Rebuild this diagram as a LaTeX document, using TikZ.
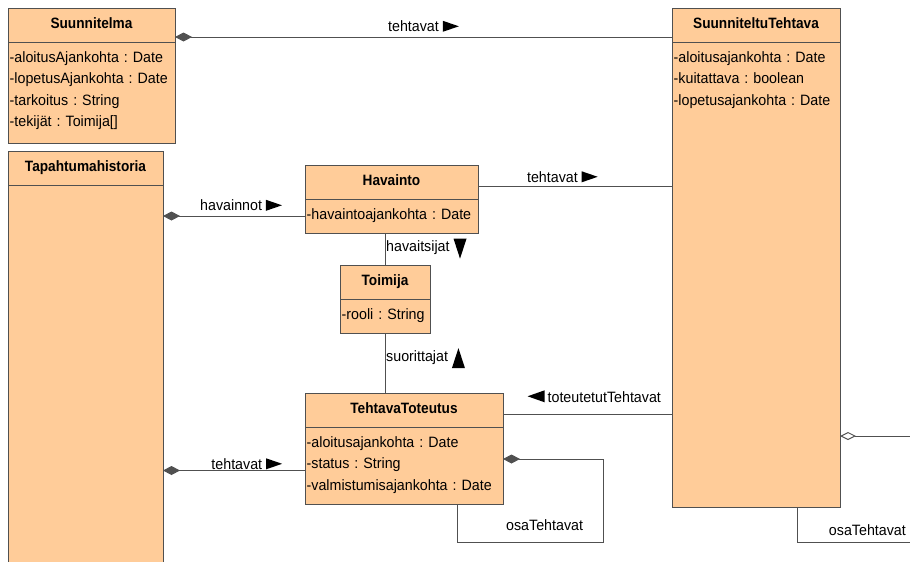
\documentclass[tikz,border=0pt]{standalone}
\usepackage{fontspec}
\setmainfont{Liberation Sans}[FakeStretch=0.95, BoldFeatures={FakeStretch=0.91}]
\usepackage{xcolor}
\usetikzlibrary{arrows.meta,positioning}

\definecolor{persikka}{HTML}{FFCC99}
\definecolor{reuna}{HTML}{505050}

% suuntakolmiot nimien perään
\newcommand{\oikealle}{\tikz[baseline=0pt]\fill[black] (0pt,0pt) -- (0pt,11pt) -- (16pt,5.5pt) -- cycle;}
\newcommand{\vasemmalle}{\tikz[baseline=0pt]\fill[black] (17pt,0pt) -- (17pt,12pt) -- (0pt,6pt) -- cycle;}
\newcommand{\alas}{\tikz[baseline=7pt]\fill[black] (0pt,20pt) -- (13pt,20pt) -- (6.5pt,0pt) -- cycle;}
\newcommand{\ylos}{\tikz[baseline=7pt]\fill[black] (0pt,0pt) -- (13pt,0pt) -- (6.5pt,20pt) -- cycle;}

\begin{document}
\frenchspacing
\begin{tikzpicture}[
        x=1pt, y=1pt,
        otsikko/.style={rectangle, draw=reuna, fill=persikka, line width=1pt, outer sep=0pt, inner sep=0pt, minimum height=34pt, text height=10.5pt, text depth=3pt, font=\fontsize{15}{17}\selectfont\bfseries},
        runko/.style={rectangle, draw=reuna, fill=persikka, line width=1pt, outer sep=0pt, inner sep=0pt},
        attr/.style={anchor=base west, inner sep=0pt, text width=200pt, align=left, font=\fontsize{15}{21.5}\selectfont},
        nimi/.style={inner sep=0pt, text depth=0pt, font=\fontsize{15}{17}\selectfont},
        yhteys/.style={draw=reuna, line width=1pt},
        kooste/.style={yhteys, {Diamond[length=17pt, width=9pt]}-},
        kokoelma/.style={yhteys, {Diamond[open, length=16pt, width=8pt]}-}
    ]
    \useasboundingbox (0,0) rectangle (910,-562);
    \clip (0,0) rectangle (910,-562);

    % Suunnitelma
    \node[otsikko, minimum width=167pt, anchor=north west] (suunnitelma) at (8,-8) {Suunnitelma};
    \node[runko, minimum width=167pt, minimum height=101pt, below=0pt of suunnitelma] (suunnitelma-runko) {};
    \node[below right=20pt and 1.5pt of suunnitelma-runko.north west, attr] {-aloitusAjankohta : Date\\-lopetusAjankohta : Date\\-tarkoitus : String\\-tekijät : Toimija[]};

    % SuunniteltuTehtava
    \node[otsikko, minimum width=168pt, anchor=north west] (suunniteltu) at (672,-8) {SuunniteltuTehtava};
    \node[runko, minimum width=168pt, minimum height=465pt, below=0pt of suunniteltu] (suunniteltu-runko) {};
    \node[below right=20pt and 1.5pt of suunniteltu-runko.north west, attr] {-aloitusajankohta : Date\\-kuitattava : boolean\\-lopetusajankohta : Date};

    % Tapahtumahistoria
    \node[otsikko, minimum width=155pt, below=8pt of suunnitelma-runko.south west, anchor=north west] (tapahtuma) {Tapahtumahistoria};
    \node[runko, minimum width=155pt, minimum height=420pt, below=0pt of tapahtuma] (tapahtuma-runko) {};

    % Havainto
    \node[otsikko, minimum width=173pt, anchor=north west] (havainto) at (305,-165) {Havainto};
    \node[runko, minimum width=173pt, minimum height=34pt, below=0pt of havainto] (havainto-runko) {};
    \node[below right=20pt and 1.5pt of havainto-runko.north west, attr] {-havaintoajankohta : Date};

    % Toimija
    \node[otsikko, minimum width=90pt, below=32pt of havainto-runko, xshift=-6.5pt] (toimija) {Toimija};
    \node[runko, minimum width=90pt, minimum height=34pt, below=0pt of toimija] (toimija-runko) {};
    \node[below right=20pt and 1.5pt of toimija-runko.north west, attr] {-rooli : String};

    % TehtavaToteutus
    \node[otsikko, minimum width=198pt, anchor=north west] (toteutus) at (305,-393) {TehtavaToteutus};
    \node[runko, minimum width=198pt, minimum height=77pt, below=0pt of toteutus] (toteutus-runko) {};
    \node[below right=20pt and 1.5pt of toteutus-runko.north west, attr] {-aloitusajankohta : Date\\-status : String\\-valmistumisajankohta : Date};

    % Yhteydet
    \draw[kooste] ([yshift=-12pt]suunnitelma.east) -- ([yshift=-12pt]suunniteltu.west)
        node[nimi, pos=0.5, above=5pt] {tehtavat \oikealle};
    \draw[kooste] (tapahtuma.east |- havainto-runko.west) -- (havainto-runko.west)
        node[nimi, pos=0.55, above=5pt] {havainnot \oikealle};
    \draw[yhteys] ([yshift=-4pt]havainto.east) -- ([yshift=-4pt]havainto.east -| suunniteltu-runko.west)
        node[nimi, pos=0.435, above=3.5pt] {tehtavat \oikealle};
    \draw[yhteys] (toimija.north) -- (toimija.north |- havainto-runko.south)
        node[nimi, pos=0.62, right=1pt] {havaitsijat \alas};
    \draw[yhteys] (toimija-runko.south) -- (toimija-runko.south |- toteutus.north)
        node[nimi, pos=0.36, right=1pt] {suorittajat \ylos};
    \draw[yhteys] ([yshift=-4pt]toteutus.east) -- ([yshift=-4pt]toteutus.east -| suunniteltu-runko.west)
        node[nimi, pos=0.54, above=11.5pt] {\vasemmalle\hspace{3pt}toteutetutTehtavat};
    \draw[kooste] ([yshift=-5pt]toteutus-runko.west -| tapahtuma-runko.east) -- ([yshift=-5pt]toteutus-runko.west)
        node[nimi, pos=0.59, above=1pt] {tehtavat \oikealle};

    % osaTehtavat
    \draw[kooste] ([yshift=6.5pt]toteutus-runko.east) -- ++(100,0) -- ++(0,-83) -| ([xshift=53pt]toteutus-runko.south)
        node[nimi, pos=0.2, above=11.5pt] {osaTehtavat};
    \draw[kokoelma] ([yshift=-161.5pt]suunniteltu-runko.east) -- ++(95,0) -- ++(0,-106) -| ([xshift=41pt]suunniteltu-runko.south)
        node[nimi, pos=0.245, above=6pt] {osaTehtavat};

\end{tikzpicture}
\end{document}
